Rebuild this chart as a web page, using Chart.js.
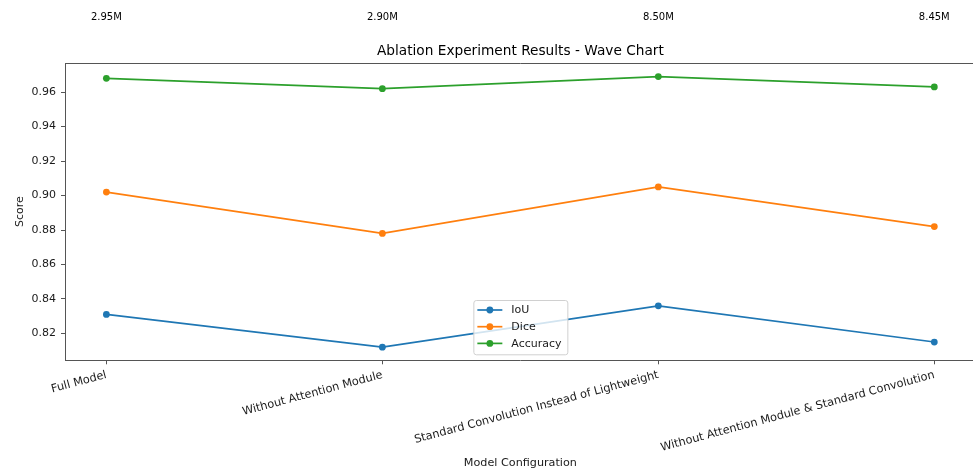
<!DOCTYPE html>
<html>
<head>
<meta charset="utf-8">
<script src="https://cdn.jsdelivr.net/npm/chart.js@4"></script>
<style>
  html, body { margin: 0; padding: 0; overflow: hidden; background: #fff; }
  canvas { display: block; }
</style>
</head>
<body>
<canvas id="c" width="990" height="472"></canvas>
<script>
// Model variants compared in the ablation study
const categories = [
  'Full Model',
  'Without Attention Module',
  'Standard Convolution Instead of Lightweight',
  'Without Attention Module & Standard Convolution'
];
// Parameter count of each variant
const paramCounts = ['2.95M', '2.90M', '8.50M', '8.45M'];

// Metric values per variant
const iou      = [0.831, 0.812, 0.836, 0.815];
const dice     = [0.902, 0.878, 0.905, 0.882];
const accuracy = [0.968, 0.962, 0.969, 0.963];

// Y-axis tick values
const yTicks = [0.82, 0.84, 0.86, 0.88, 0.90, 0.92, 0.94, 0.96];

const FONT = "'DejaVu Sans', sans-serif";
const TEXT = '#1a1a1a';
const SPINE = '#555';

const seriesDefs = [
  { label: 'IoU', values: iou, color: '#1f77b4' },
  { label: 'Dice', values: dice, color: '#ff7f0e' },
  { label: 'Accuracy', values: accuracy, color: '#2ca02c' }
];

const datasets = seriesDefs.map(s => ({
  label: s.label,
  data: s.values.map((v, i) => ({ x: i, y: v })),
  borderColor: s.color,
  backgroundColor: s.color,
  borderWidth: 1.7,
  pointRadius: 3.4,
  pointBorderWidth: 0,
  pointBackgroundColor: s.color,
  tension: 0
}));

// Top frame line, title and parameter-count labels above the plot
const decorations = {
  id: 'decorations',
  afterDraw(chart) {
    const { ctx, chartArea: a, scales: { x } } = chart;
    ctx.save();
    ctx.strokeStyle = SPINE;
    ctx.lineWidth = 1;
    ctx.beginPath();
    ctx.moveTo(a.left, a.top + 0.5);
    ctx.lineTo(a.right, a.top + 0.5);
    ctx.lineTo(a.right, a.bottom);
    ctx.stroke();

    ctx.fillStyle = '#000';
    ctx.textAlign = 'center';
    ctx.textBaseline = 'middle';
    ctx.font = `13.7px ${FONT}`;
    ctx.fillText('Ablation Experiment Results - Wave Chart', (a.left + a.right) / 2, 51.5);

    ctx.font = `10px ${FONT}`;
    paramCounts.forEach((t, i) => {
      ctx.fillText(t, x.getPixelForValue(i), 17);
    });
    ctx.restore();
  }
};

// Legend box with line-and-marker swatches
const markerLegend = {
  id: 'markerLegend',
  afterDatasetsDraw(chart) {
    const { ctx, chartArea: a } = chart;
    const cx = (a.left + a.right) / 2;
    const left = cx - 47, right = cx + 47;
    const top = a.bottom - 60.3, bottom = a.bottom - 6;
    ctx.save();
    ctx.beginPath();
    ctx.roundRect(left + 0.5, top + 0.5, right - left, bottom - top, 2.5);
    ctx.fillStyle = 'rgba(255,255,255,0.8)';
    ctx.fill();
    ctx.strokeStyle = '#d0d0d0';
    ctx.lineWidth = 1;
    ctx.stroke();

    ctx.font = `11px ${FONT}`;
    ctx.textAlign = 'left';
    ctx.textBaseline = 'middle';
    seriesDefs.forEach((s, i) => {
      const y = top + 10 + i * 16.7;
      ctx.strokeStyle = s.color;
      ctx.lineWidth = 1.7;
      ctx.beginPath();
      ctx.moveTo(left + 4, y);
      ctx.lineTo(left + 29, y);
      ctx.stroke();
      ctx.fillStyle = s.color;
      ctx.beginPath();
      ctx.arc(left + 16.5, y, 3.4, 0, Math.PI * 2);
      ctx.fill();
      ctx.fillStyle = TEXT;
      ctx.fillText(s.label, left + 38, y + 0.5);
    });
    ctx.restore();
  }
};

new Chart(document.getElementById('c'), {
  type: 'line',
  data: { datasets },
  plugins: [decorations, markerLegend],
  options: {
    responsive: false,
    animation: false,
    devicePixelRatio: 1,
    layout: { padding: { top: 63, left: 14, right: 14.3, bottom: 2.4 } },
    plugins: {
      legend: { display: false },
      title: { display: false },
      tooltip: { enabled: false }
    },
    scales: {
      x: {
        type: 'linear',
        min: -0.15,
        max: 3.15,
        afterBuildTicks(scale) {
          scale.ticks = categories.map((_, i) => ({ value: i }));
        },
        afterFit(scale) {
          scale.height = 472 - 2.4 - 360.3;
          scale.paddingLeft = 0;
          scale.paddingRight = 0;
        },
        ticks: {
          autoSkip: false,
          minRotation: 15,
          maxRotation: 15,
          padding: 4,
          color: TEXT,
          font: { family: FONT, size: 11.3 },
          callback: v => categories[Math.round(v)]
        },
        grid: { drawOnChartArea: false, drawTicks: true, tickLength: 4, tickColor: SPINE },
        border: { display: true, color: SPINE, width: 1 },
        title: {
          display: true,
          text: 'Model Configuration',
          color: TEXT,
          font: { family: FONT, size: 11.2 },
          padding: { top: 0, bottom: 0 }
        }
      },
      y: {
        min: 0.8044,
        max: 0.9769,
        afterBuildTicks(scale) {
          scale.ticks = yTicks.map(v => ({ value: v }));
        },
        afterFit(scale) {
          scale.width = 51;
          scale.paddingTop = 0;
          scale.paddingBottom = 0;
        },
        ticks: {
          padding: 5,
          color: TEXT,
          font: { family: FONT, size: 11 },
          callback: v => Number(v).toFixed(2)
        },
        grid: { drawOnChartArea: false, drawTicks: true, tickLength: 4, tickColor: SPINE },
        border: { display: true, color: SPINE, width: 1 },
        title: {
          display: true,
          text: 'Score',
          color: TEXT,
          font: { family: FONT, size: 11 },
          padding: { top: 0, bottom: 0 }
        }
      }
    }
  }
});
</script>
</body>
</html>
